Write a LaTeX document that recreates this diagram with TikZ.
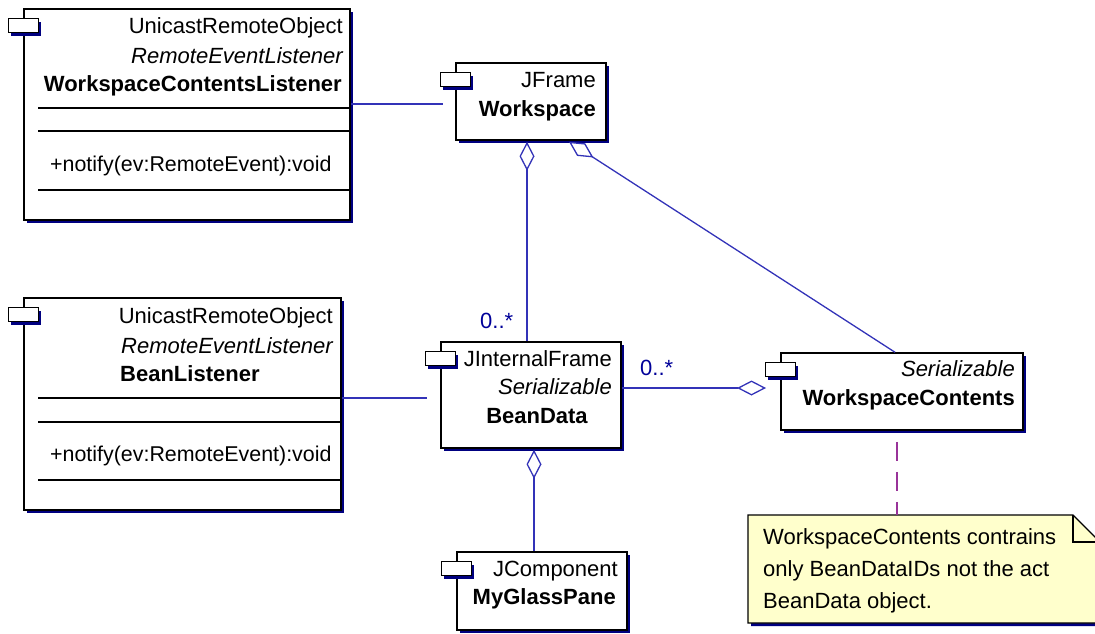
\documentclass[tikz,border=0pt]{standalone}
\usepackage{fontspec}
\setmainfont{Liberation Sans}
\usetikzlibrary{arrows.meta,positioning,shadows,backgrounds}
\definecolor{umlnavy}{rgb}{0,0,0.5}
\definecolor{umlblue}{rgb}{0.2,0.2,0.72}
\definecolor{notepurple}{rgb}{0.6,0.2,0.6}
\definecolor{noteyellow}{rgb}{1,1,0.8}
\tikzset{
  rombo/.tip={Diamond[open,fill=white,length=29pt,width=15pt]},
  clase/.style={
    draw=black,
    line width=1.5pt,
    fill=white,
    inner sep=0pt,
    drop shadow={shadow xshift=3pt,shadow yshift=-3pt,fill=umlnavy,opacity=1}
  },
  pestana/.style={
    clase,
    line width=1.3pt,
    minimum width=30pt,
    minimum height=14pt
  },
  estereo/.style={
    anchor=base east,
    inner sep=0pt,
    font=\fontsize{22}{26}\selectfont
  },
  interfaz/.style={
    estereo,
    font=\fontsize{22}{26}\selectfont\itshape
  },
  nombre/.style={
    estereo,
    font=\fontsize{22}{26}\selectfont\bfseries
  },
  metodo/.style={
    estereo,
    anchor=base west,
    font=\fontsize{21.4}{26}\selectfont
  },
  mult/.style={
    estereo,
    anchor=base west,
    text=umlnavy!80!blue
  },
  compart/.style={
    line width=1.3pt,
    black
  },
  asociacion/.style={
    line width=1.3pt,
    umlblue
  },
  agregacion/.style={
    asociacion,
    {rombo}-
  },
  enlace/.style={
    line width=1.3pt,
    notepurple,
    dash pattern=on 19pt off 11pt,
    dash phase=19pt
  },
  nota/.style={
    fill=noteyellow,
    draw=black,
    line width=1.3pt
  }
}

\begin{document}
\begin{tikzpicture}[x=1pt,y=-1pt]
\useasboundingbox (0,0) rectangle (1095,633);

% class boxes
\node[clase,minimum width=326pt,minimum height=211pt] (wcl) at (187,114.5) {};
\node[clase,minimum width=317pt,minimum height=212pt] (bl) at (182.5,404) {};
\node[clase,minimum width=150pt,minimum height=77pt] (ws) at (531,101.5) {};
\node[clase,minimum width=180pt,minimum height=106pt] (bd) at (531,395) {};
\node[clase,minimum width=242pt,minimum height=77pt] (wc) at (902,391.5) {};
\node[clase,minimum width=170pt,minimum height=78pt] (gp) at (542,591) {};
\foreach \c in {wcl,bl,ws,bd,wc,gp}
  \node[pestana] (\c tab) at ([yshift=-17.5pt]\c.north west) {};

% WorkspaceContentsListener
\node[estereo] (wclsup) at (343,33) {UnicastRemoteObject};
\node[interfaz] (wclint) at (343,63) {RemoteEventListener};
\node[nombre] (wclnom) at (342,91) {WorkspaceContentsListener};
\foreach \y in {108,131,190}
  \draw[compart] (38,\y) -- (350,\y);
\node[metodo] (wclop) at (50,171) {+notify(ev:RemoteEvent):void};

% BeanListener
\node[estereo] (blsup) at (333,323) {UnicastRemoteObject};
\node[interfaz] (blint) at (333,353) {RemoteEventListener};
\node[nombre,anchor=base west] (blnom) at (120,381) {BeanListener};
\foreach \y in {398,422,480}
  \draw[compart] (38,\y) -- (341,\y);
\node[metodo] (blop) at (50,461) {+notify(ev:RemoteEvent):void};

% Workspace, BeanData, WorkspaceContents, MyGlassPane
\node[estereo] (wssup) at (596,87) {JFrame};
\node[nombre] (wsnom) at (596,116) {Workspace};
\node[estereo] (bdsup) at (612,366) {JInternalFrame};
\node[interfaz] (bdint) at (612,394) {Serializable};
\node[nombre,anchor=base] (bdnom) at (537,423) {BeanData};
\node[interfaz] (wcint) at (1015,376) {Serializable};
\node[nombre] (wcnom) at (1015,405) {WorkspaceContents};
\node[estereo] (gpsup) at (618,576) {JComponent};
\node[nombre] (gpnom) at (616,604) {MyGlassPane};

% note, last line on its baseline
\node[metodo,align=left,font=\fontsize{22}{32}\selectfont] (notatxt) at (763,608)
  {WorkspaceContents contrains\\only BeanDataIDs not the act\\BeanData object.};
\coordinate (notatop) at (897,515);
\begin{scope}[on background layer]
  \fill[umlnavy] (751,518) -- (1076,518) -- (1103,545) -- (1103,626) -- (751,626) -- cycle;
  \filldraw[nota] (748,515) -- (1073,515) -- (1100,542) -- (1100,623) -- (748,623) -- cycle;
  \draw[nota,fill=none] (1073,515) |- (1100,542);
\end{scope}

% connectors
\coordinate (wsin) at (443,104);
\coordinate (bdin) at (427,398);
\coordinate (wcin) at (766,388);
\draw[asociacion] (wcl.east |- wsin) -- (wsin);
\draw[asociacion] (bl.east |- bdin) -- (bdin);
\draw[agregacion] ([xshift=-4pt,yshift=-1pt]ws.south) -- ([xshift=-4pt]bd.north);
\draw[agregacion] ([xshift=38pt,yshift=-1pt]ws.south) -- ([xshift=-7pt]wc.north);
\draw[asociacion,-{rombo}] (bd.east |- wcin) -- (wcin);
\draw[agregacion] ([xshift=3pt,yshift=-1pt]bd.south) -- ([xshift=3pt]bd.south |- gp.north);
\draw[enlace] ([xshift=-5pt]wc.south) -- (notatop);
\node[mult] (bdmult) at (480,328) {0..*};
\node[mult] (wcmult) at (640,375) {0..*};
\end{tikzpicture}
\end{document}
